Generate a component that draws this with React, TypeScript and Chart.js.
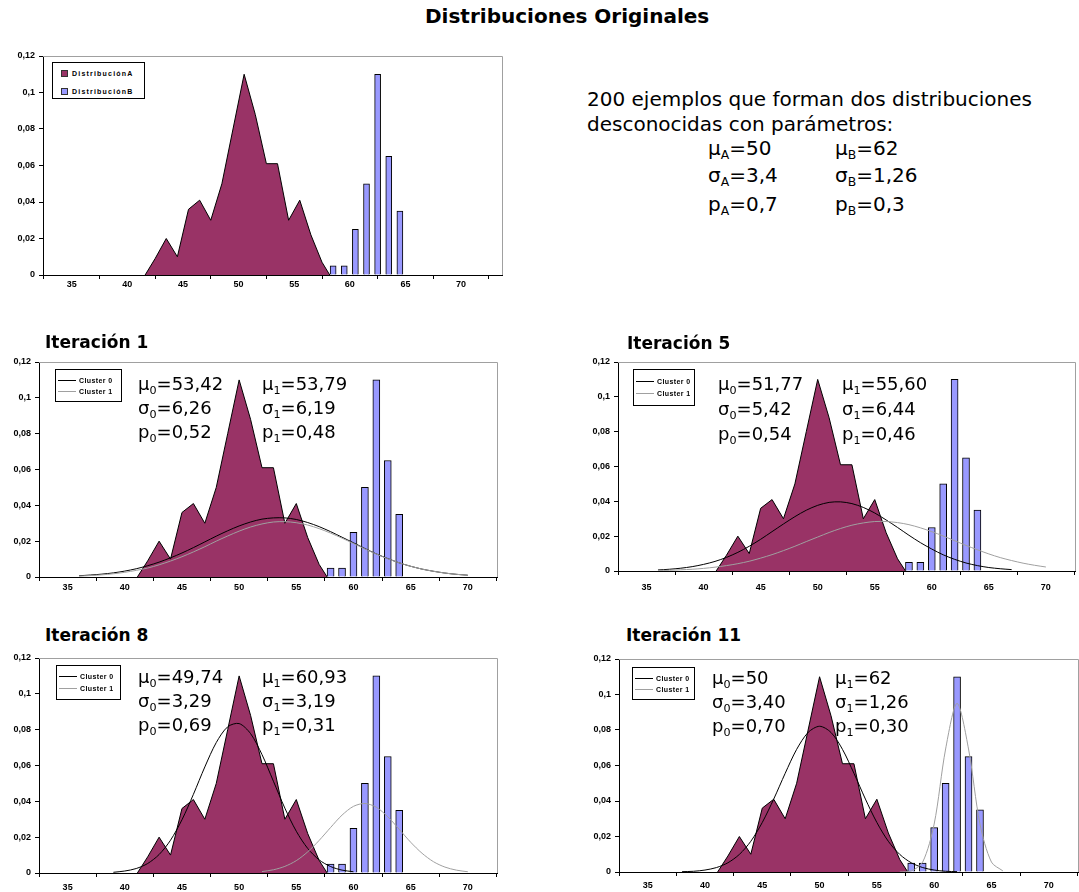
import React, { useEffect, useRef } from 'react';
import { Chart, registerables } from 'chart.js';

Chart.register(...registerables);

// ---------- axis ticks ----------
const X_TICKS = [35, 40, 45, 50, 55, 60, 65, 70];
const X_TICK_LABELS = ['35', '40', '45', '50', '55', '60', '65', '70'];
const Y_TICKS = [0, 0.02, 0.04, 0.06, 0.08, 0.1, 0.12];
const Y_TICK_LABELS = ['0', '0,02', '0,04', '0,06', '0,08', '0,1', '0,12'];

// ---------- original distributions ----------
const DIST_A_X = [41.1, 42, 43, 44, 45, 46, 47, 48, 49, 50, 51, 52, 53, 54, 55, 56, 57, 57.7];
const DIST_A_Y = [0, 0.009, 0.02, 0.01, 0.036, 0.041, 0.03, 0.05, 0.08, 0.11, 0.088, 0.061, 0.061, 0.03, 0.041, 0.022, 0.007, 0];
const DIST_B_X = [58, 59, 60, 61, 62, 63, 64];
const DIST_B_Y = [0.005, 0.005, 0.025, 0.05, 0.11, 0.065, 0.035];

// ---------- cluster curves ----------
const IT1_C0_X = [36, 37, 38, 39, 40, 41, 42, 43, 44, 45, 46, 47, 48, 49, 50, 51, 52, 53, 54, 55, 56, 57, 58, 59, 60, 61, 62, 63, 64, 65, 66, 67, 68, 69, 70];
const IT1_C0_Y = [0.0007, 0.0011, 0.0016, 0.0023, 0.0033, 0.0046, 0.0063, 0.0083, 0.0107, 0.0134, 0.0164, 0.0196, 0.0228, 0.0258, 0.0285, 0.0307, 0.0323, 0.033, 0.033, 0.0321, 0.0304, 0.0281, 0.0253, 0.0222, 0.0191, 0.0159, 0.0129, 0.0103, 0.0079, 0.006, 0.0044, 0.0032, 0.0022, 0.0015, 0.001];
const IT1_C1_X = [36, 37, 38, 39, 40, 41, 42, 43, 44, 45, 46, 47, 48, 49, 50, 51, 52, 53, 54, 55, 56, 57, 58, 59, 60, 61, 62, 63, 64, 65, 66, 67, 68, 69, 70];
const IT1_C1_Y = [0.0005, 0.0008, 0.0012, 0.0018, 0.0026, 0.0037, 0.005, 0.0068, 0.0089, 0.0113, 0.014, 0.0169, 0.02, 0.0229, 0.0256, 0.0279, 0.0296, 0.0307, 0.0309, 0.0303, 0.029, 0.027, 0.0245, 0.0217, 0.0187, 0.0157, 0.0128, 0.0102, 0.0079, 0.006, 0.0044, 0.0032, 0.0022, 0.0015, 0.001];

const IT5_C0_X = [36, 37, 38, 39, 40, 41, 42, 43, 44, 45, 46, 47, 48, 49, 50, 51, 52, 53, 54, 55, 56, 57, 58, 59, 60, 61, 62, 63, 64, 65, 66, 67];
const IT5_C0_Y = [0.0006, 0.001, 0.0016, 0.0025, 0.0038, 0.0055, 0.0078, 0.0107, 0.0142, 0.0182, 0.0226, 0.027, 0.0312, 0.0349, 0.0377, 0.0394, 0.0397, 0.0387, 0.0365, 0.0333, 0.0293, 0.025, 0.0205, 0.0163, 0.0126, 0.0093, 0.0067, 0.0046, 0.0031, 0.002, 0.0013, 0.0008];
const IT5_C1_X = [36, 37, 38, 39, 40, 41, 42, 43, 44, 45, 46, 47, 48, 49, 50, 51, 52, 53, 54, 55, 56, 57, 58, 59, 60, 61, 62, 63, 64, 65, 66, 67, 68, 69, 70];
const IT5_C1_Y = [0.0003, 0.0004, 0.0007, 0.001, 0.0015, 0.0022, 0.0031, 0.0042, 0.0056, 0.0074, 0.0094, 0.0117, 0.0142, 0.0169, 0.0195, 0.0221, 0.0244, 0.0263, 0.0276, 0.0284, 0.0284, 0.0278, 0.0266, 0.0248, 0.0226, 0.0201, 0.0174, 0.0147, 0.0122, 0.0098, 0.0077, 0.006, 0.0045, 0.0033, 0.0023];

const IT8_C0_X = [39, 40, 41, 42, 43, 44, 45, 46, 47, 48, 49, 50, 51, 52, 53, 54, 55, 56, 57, 58, 59, 60];
const IT8_C0_Y = [0.0004, 0.0011, 0.0025, 0.0053, 0.0103, 0.0183, 0.0297, 0.0439, 0.0592, 0.0728, 0.0816, 0.0834, 0.0778, 0.0661, 0.0512, 0.0362, 0.0233, 0.0137, 0.0073, 0.0036, 0.0016, 0.0007];
const IT8_C1_X = [52, 53, 54, 55, 56, 57, 58, 59, 60, 61, 62, 63, 64, 65, 66, 67, 68, 69, 70];
const IT8_C1_Y = [0.0008, 0.0018, 0.0037, 0.0069, 0.0118, 0.0182, 0.0254, 0.0323, 0.0372, 0.0388, 0.0367, 0.0314, 0.0244, 0.0172, 0.011, 0.0063, 0.0033, 0.0016, 0.0007];

const IT11_C0_X = [38, 39, 40, 41, 42, 43, 44, 45, 46, 47, 48, 49, 50, 51, 52, 53, 54, 55, 56, 57, 58, 59, 60, 61, 62];
const IT11_C0_Y = [0.0002, 0.0004, 0.0011, 0.0025, 0.0052, 0.0099, 0.0173, 0.0279, 0.0411, 0.0556, 0.0691, 0.0786, 0.0821, 0.0786, 0.0691, 0.0556, 0.0411, 0.0279, 0.0173, 0.0099, 0.0052, 0.0025, 0.0011, 0.0004, 0.0002];
const IT11_C1_X = [57, 58, 59, 60, 61, 62, 63, 64, 65, 66];
const IT11_C1_Y = [0, 0.0006, 0.0056, 0.027, 0.0693, 0.095, 0.0693, 0.027, 0.0056, 0.0006];

// ---------- texts ----------
const MAIN_TITLE = 'Distribuciones Originales';
const INTRO_LINES = ['200 ejemplos que forman dos distribuciones', 'desconocidas con parámetros:'];
const ORIG_NAMES = ['A', 'B'];
const ORIG_MU = ['50', '62'];
const ORIG_SIGMA = ['3,4', '1,26'];
const ORIG_P = ['0,7', '0,3'];
const LEGEND_ORIG = ['DistribuciónA', 'DistribuciónB'];
const LEGEND_ITER = ['Cluster 0', 'Cluster 1'];
const ITER_TITLES = ['Iteración 1', 'Iteración 5', 'Iteración 8', 'Iteración 11'];
const ITER_MU0 = ['53,42', '51,77', '49,74', '50'];
const ITER_MU1 = ['53,79', '55,60', '60,93', '62'];
const ITER_SIGMA0 = ['6,26', '5,42', '3,29', '3,40'];
const ITER_SIGMA1 = ['6,19', '6,44', '3,19', '1,26'];
const ITER_P0 = ['0,52', '0,54', '0,69', '0,70'];
const ITER_P1 = ['0,48', '0,46', '0,31', '0,30'];

// ---------- styles ----------
const AREA_FILL = '#993366';
const BAR_FILL = '#9999ff';
const C0_COLOR = '#000000';
const C1_COLOR = '#a0a0a0';
const FRAME_COLOR = '#a0a0a0';
const SANS = '"DejaVu Sans", "Liberation Sans", sans-serif';

type Curve = { xs: number[]; ys: number[]; color: string };
type PanelSpec = {
  left: number; top: number; right: number; bottom: number;
  xMax: number; xShift: number; labelPad: number; tickSize: number; barW: number;
  curves: Curve[];
};

const PANELS: PanelSpec[] = [
  { left: 43, top: 56, right: 502, bottom: 275, xMax: 71.1, xShift: 0.5, labelPad: 0, tickSize: 9, barW: 6, curves: [] },
  { left: 39, top: 362, right: 497, bottom: 577, xMax: 70.05, xShift: 0, labelPad: 1, tickSize: 9, barW: 7,
    curves: [{ xs: IT1_C1_X, ys: IT1_C1_Y, color: C1_COLOR }, { xs: IT1_C0_X, ys: IT1_C0_Y, color: C0_COLOR }] },
  { left: 618, top: 362, right: 1075, bottom: 571, xMax: 70.05, xShift: 0, labelPad: 7, tickSize: 9, barW: 7,
    curves: [{ xs: IT5_C1_X, ys: IT5_C1_Y, color: C1_COLOR }, { xs: IT5_C0_X, ys: IT5_C0_Y, color: C0_COLOR }] },
  { left: 39, top: 658, right: 497, bottom: 873, xMax: 70.05, xShift: 0, labelPad: 5, tickSize: 9, barW: 7,
    curves: [{ xs: IT8_C1_X, ys: IT8_C1_Y, color: C1_COLOR }, { xs: IT8_C0_X, ys: IT8_C0_Y, color: C0_COLOR }] },
  { left: 619, top: 659, right: 1078, bottom: 872, xMax: 70.05, xShift: 0, labelPad: 4, tickSize: 9, barW: 7,
    curves: [{ xs: IT11_C1_X, ys: IT11_C1_Y, color: C1_COLOR }, { xs: IT11_C0_X, ys: IT11_C0_Y, color: C0_COLOR }] },
];

const Y_AXIS_W = 40;
const PAD = 12;
const X_AXIS_H = 24;

const framePlugin = {
  id: 'frame',
  afterDraw(chart: any) {
    const { ctx, chartArea: a } = chart;
    ctx.save();
    ctx.strokeStyle = FRAME_COLOR;
    ctx.lineWidth = 1;
    ctx.beginPath();
    ctx.moveTo(a.left, Math.round(a.top) + 0.5);
    ctx.lineTo(Math.round(a.right) + 0.5, Math.round(a.top) + 0.5);
    ctx.lineTo(Math.round(a.right) + 0.5, a.bottom);
    ctx.stroke();
    ctx.restore();
  },
};

function ChartPanel({ spec }: { spec: PanelSpec }) {
  const ref = useRef<HTMLCanvasElement>(null);
  const w = spec.right - spec.left + Y_AXIS_W + PAD;
  const h = spec.bottom - spec.top + PAD + X_AXIS_H;
  useEffect(() => {
    if (!ref.current) return;
    const datasets: any[] = [];
    spec.curves.forEach((c) => {
      datasets.push({
        type: 'line',
        data: c.xs.map((x, i) => ({ x, y: c.ys[i] })),
        borderColor: c.color,
        borderWidth: 1,
        pointRadius: 0,
        tension: 0.3,
        fill: false,
        order: 0,
      });
    });
    datasets.push({
      type: 'bar',
      data: DIST_B_X.map((x, i) => ({ x: x + spec.xShift, y: DIST_B_Y[i] })),
      backgroundColor: BAR_FILL,
      borderColor: '#000',
      borderWidth: 1,
      barThickness: spec.barW,
      order: 1,
    });
    datasets.push({
      type: 'line',
      data: DIST_A_X.map((x, i) => ({ x: x + spec.xShift, y: DIST_A_Y[i] })),
      backgroundColor: AREA_FILL,
      borderColor: '#000',
      borderWidth: 1,
      pointRadius: 0,
      tension: 0,
      fill: 'origin',
      order: 2,
    });
    const tickFont = { family: 'Arial, "Liberation Sans"', size: spec.tickSize, weight: 'bold' as const };
    const chart = new Chart(ref.current, {
      type: 'line',
      data: { datasets },
      options: {
        animation: false,
        responsive: false,
        maintainAspectRatio: false,
        layout: { padding: { left: 0, top: PAD, right: PAD, bottom: 0 } },
        plugins: { legend: { display: false }, tooltip: { enabled: false } },
        scales: {
          x: {
            type: 'linear',
            min: 35,
            max: spec.xMax,
            afterBuildTicks: (s: any) => { s.ticks = X_TICKS.map((v) => ({ value: v })); },
            afterFit: (s: any) => { s.height = X_AXIS_H; },
            ticks: {
              autoSkip: false,
              maxRotation: 0,
              padding: spec.labelPad,
              color: '#000',
              font: tickFont,
              callback: (_v: any, i: number) => X_TICK_LABELS[i],
            },
            grid: { display: true, drawOnChartArea: false, drawTicks: true, tickLength: 4, color: '#000' },
            border: { display: true, color: '#000', width: 1 },
          },
          y: {
            type: 'linear',
            min: 0,
            max: 0.12,
            afterBuildTicks: (s: any) => { s.ticks = Y_TICKS.map((v) => ({ value: v })); },
            afterFit: (s: any) => { s.width = Y_AXIS_W; },
            ticks: {
              padding: 4,
              color: '#000',
              font: tickFont,
              callback: (_v: any, i: number) => Y_TICK_LABELS[i],
            },
            grid: { display: true, drawOnChartArea: false, drawTicks: true, tickLength: 4, color: '#000' },
            border: { display: true, color: '#000', width: 1 },
          },
        },
      } as any,
      plugins: [framePlugin],
    });
    return () => chart.destroy();
  }, []);
  return (
    <canvas
      ref={ref}
      width={w}
      height={h}
      style={{ position: 'absolute', left: spec.left - Y_AXIS_W, top: spec.top - PAD, width: w, height: h }}
    />
  );
}

const Sub = ({ children }: { children: React.ReactNode }) => (
  <span style={{ fontSize: '0.62em', position: 'relative', top: '0.35em' }}>{children}</span>
);

function Txt({ left, top, size, children, bold }: { left: number; top: number; size: number; children: React.ReactNode; bold?: boolean }) {
  return (
    <div style={{ position: 'absolute', left, top, fontFamily: SANS, fontSize: size, lineHeight: `${size}px`, fontWeight: bold ? 'bold' : 'normal', whiteSpace: 'nowrap' }}>
      {children}
    </div>
  );
}

function OrigLegend() {
  const box = { left: 52, top: 62, width: 93, height: 37 };
  const colors = [AREA_FILL, BAR_FILL];
  return (
    <div style={{ position: 'absolute', left: box.left, top: box.top, width: box.width, height: box.height, border: '1px solid #000', background: '#fff', boxSizing: 'border-box' }}>
      {LEGEND_ORIG.map((t, i) => (
        <div key={t} style={{ position: 'absolute', left: 8, top: 6 + i * 18, height: 8, display: 'flex', alignItems: 'center', whiteSpace: 'nowrap' }}>
          <div style={{ width: 5, height: 5, background: colors[i], border: '1px solid #333', flex: 'none' }} />
          <span style={{ marginLeft: 4, font: 'bold 7px Arial, "Liberation Sans"', letterSpacing: '1.2px', whiteSpace: 'nowrap' }}>{t}</span>
        </div>
      ))}
    </div>
  );
}

function IterLegend({ left, top, width, height }: { left: number; top: number; width: number; height: number }) {
  const colors = [C0_COLOR, C1_COLOR];
  return (
    <div style={{ position: 'absolute', left, top, width, height, border: '1px solid #000', background: '#fff', boxSizing: 'border-box' }}>
      {LEGEND_ITER.map((t, i) => (
        <div key={t} style={{ position: 'absolute', left: 2, top: (height * (i + 1)) / 3 - 5, height: 8, display: 'flex', alignItems: 'center', whiteSpace: 'nowrap' }}>
          <div style={{ width: 18, height: 1, background: colors[i], flex: 'none' }} />
          <span style={{ marginLeft: 3, font: 'bold 7px Arial, "Liberation Sans"', letterSpacing: '0.4px', whiteSpace: 'nowrap' }}>{t}</span>
        </div>
      ))}
    </div>
  );
}

const ITER_LAYOUT = [
  { title: [45, 334], legend: [55, 369, 67, 33], cols: [138, 262], rows: [375, 399, 423] },
  { title: [627, 335], legend: [633, 369, 62, 37], cols: [718, 842], rows: [375, 400, 425] },
  { title: [45, 627], legend: [56, 665, 65, 35], cols: [138, 262], rows: [668, 692, 716] },
  { title: [626, 627], legend: [632, 667, 63, 33], cols: [712, 835], rows: [669, 693, 717] },
];

export default function App() {
  return (
    <div style={{ position: 'fixed', left: 0, top: 0, width: 1079, height: 892, overflow: 'hidden', background: '#fff', color: '#000' }}>
      <Txt left={425} top={6} size={20} bold>{MAIN_TITLE}</Txt>
      <Txt left={587} top={89} size={20}>{INTRO_LINES[0]}</Txt>
      <Txt left={587} top={114} size={20}>{INTRO_LINES[1]}</Txt>
      {ORIG_NAMES.map((n, i) => (
        <React.Fragment key={n}>
          <Txt left={i === 0 ? 708 : 835} top={138} size={20}>μ<Sub>{n}</Sub>={ORIG_MU[i]}</Txt>
          <Txt left={i === 0 ? 708 : 835} top={165} size={20}>σ<Sub>{n}</Sub>={ORIG_SIGMA[i]}</Txt>
          <Txt left={i === 0 ? 708 : 835} top={194} size={20}>p<Sub>{n}</Sub>={ORIG_P[i]}</Txt>
        </React.Fragment>
      ))}
      {PANELS.map((p, i) => (
        <ChartPanel key={i} spec={p} />
      ))}
      <OrigLegend />
      {ITER_LAYOUT.map((L, k) => (
        <React.Fragment key={k}>
          <Txt left={L.title[0]} top={L.title[1]} size={17} bold>{ITER_TITLES[k]}</Txt>
          <IterLegend left={L.legend[0]} top={L.legend[1]} width={L.legend[2]} height={L.legend[3]} />
          <Txt left={L.cols[0]} top={L.rows[0]} size={18}>μ<Sub>0</Sub>={ITER_MU0[k]}</Txt>
          <Txt left={L.cols[0]} top={L.rows[1]} size={18}>σ<Sub>0</Sub>={ITER_SIGMA0[k]}</Txt>
          <Txt left={L.cols[0]} top={L.rows[2]} size={18}>p<Sub>0</Sub>={ITER_P0[k]}</Txt>
          <Txt left={L.cols[1]} top={L.rows[0]} size={18}>μ<Sub>1</Sub>={ITER_MU1[k]}</Txt>
          <Txt left={L.cols[1]} top={L.rows[1]} size={18}>σ<Sub>1</Sub>={ITER_SIGMA1[k]}</Txt>
          <Txt left={L.cols[1]} top={L.rows[2]} size={18}>p<Sub>1</Sub>={ITER_P1[k]}</Txt>
        </React.Fragment>
      ))}
    </div>
  );
}
